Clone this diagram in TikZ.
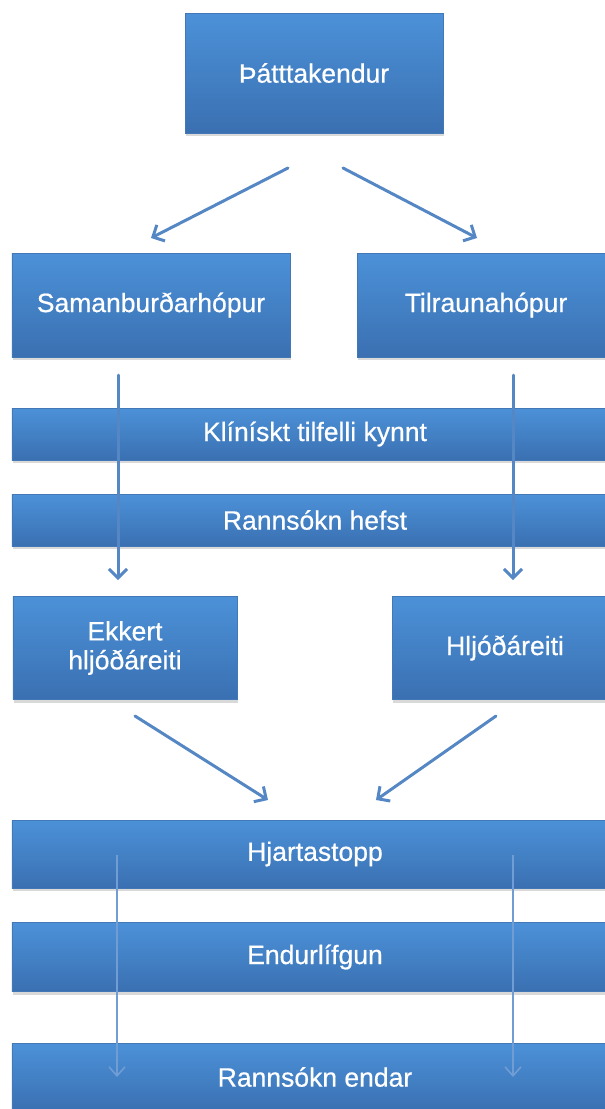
\documentclass[tikz,border=0pt]{standalone}
\usepackage{fontspec}
\setmainfont{Liberation Sans}
\newfontfamily\boxfont[FakeBold=0.6]{Liberation Sans}
\usetikzlibrary{arrows.meta,shadows}
\definecolor{boxtop}{RGB}{76,145,216}
\definecolor{boxbot}{RGB}{58,112,178}
\definecolor{boxedge}{RGB}{66,120,182}
\definecolor{arr}{RGB}{84,135,196}
\definecolor{arrthin}{RGB}{112,158,212}
\tikzset{
 box/.style={rectangle, top color=boxtop, bottom color=boxbot, draw=boxedge, line width=0.5bp,
   text=white, font=\boxfont\fontsize{26.5bp}{29bp}\selectfont, inner sep=0pt, align=center,
   drop shadow={shadow xshift=1bp, shadow yshift=-3bp, opacity=0.3}},
 bigarrow/.style={draw=arr, line width=3bp, line cap=round, -{Straight Barb[length=9bp,width=18bp,line width=3bp]}},
 thinarrow/.style={draw=arrthin, line width=1.6bp, -{Straight Barb[length=9bp,width=16bp,line width=1.6bp]}},
}
\begin{document}
\begin{tikzpicture}[x=1bp,y=-1bp]
\useasboundingbox (0,0) rectangle (605,1109);
\clip (0,0) rectangle (605,1109);
% boxes
\node[box, minimum width=258bp, minimum height=120bp] (p) at (314,73) {Þátttakendur};
\node[box, minimum width=278bp, minimum height=104bp] (sam) at (151,305) {Samanburðarhópur};
\node[box, minimum width=258bp, minimum height=104bp] (til) at (486,305) {Tilraunahópur};
\node[box, minimum width=606bp, minimum height=52bp] (kli) at (315,434) {Klínískt tilfelli kynnt};
\node[box, minimum width=606bp, minimum height=52bp] (rh) at (315,520) {Rannsókn hefst};
\node[box, minimum width=224bp, minimum height=103bp] (ekk) at (125,648) {Ekkert\\hljóðáreiti};
\node[box, minimum width=226bp, minimum height=103bp] (hlj) at (505,648) {Hljóðáreiti};
\node[box, minimum width=606bp, minimum height=68bp] (hja) at (315,854) {Hjartastopp};
\node[box, minimum width=606bp, minimum height=69bp] (end) at (315,957) {Endurlífgun};
\node[box, minimum width=606bp, minimum height=68bp] (re) at (315,1077) {Rannsókn endar};
% connector end points
\coordinate (a1s) at (288,168); \coordinate (a1e) at (151,238);
\coordinate (a2s) at (343,168); \coordinate (a2e) at (477,238);
\coordinate (v1s) at (118,375); \coordinate (v1e) at (118,580);
\coordinate (v2s) at (513,375); \coordinate (v2e) at (513,580);
\coordinate (d1s) at (135,716); \coordinate (d1e) at (268,800);
\coordinate (d2s) at (496,716); \coordinate (d2e) at (376,800);
\coordinate (t1s) at (117,855); \coordinate (t1e) at (117,1077);
\coordinate (t2s) at (513,855); \coordinate (t2e) at (513,1077);
% connectors
\draw[bigarrow] (a1s) -- (a1e);
\draw[bigarrow] (a2s) -- (a2e);
\draw[bigarrow] (v1s) -- (v1e);
\draw[bigarrow] (v2s) -- (v2e);
\draw[bigarrow] (d1s) -- (d1e);
\draw[bigarrow] (d2s) -- (d2e);
\draw[thinarrow] (t1s) -- (t1e);
\draw[thinarrow] (t2s) -- (t2e);
\end{tikzpicture}
\end{document}
